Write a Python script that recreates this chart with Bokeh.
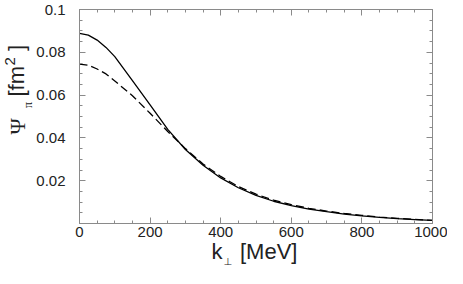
import math
from bokeh.plotting import figure
from bokeh.models import (LinearAxis, FixedTicker, CustomJSTickFormatter, Label,
                          Range1d, ColumnDataSource)
from bokeh.embed import file_html
from bokeh.resources import INLINE

# ---- data ----
k_perp = [0, 25, 50, 75, 100, 150, 200, 250, 300, 350, 400, 450, 500,
          550, 600, 650, 700, 750, 800, 850, 900, 950, 1000]
psi_solid = [0.0888, 0.0880, 0.0857, 0.0823, 0.0780, 0.0668, 0.0554, 0.0440,
             0.0346, 0.0272, 0.0213, 0.0167, 0.0131, 0.0104, 0.0084, 0.0067,
             0.0055, 0.0044, 0.0036, 0.0029, 0.0023, 0.0018, 0.0015]
psi_dashed = [0.0745, 0.0740, 0.0722, 0.0699, 0.0666, 0.0597, 0.0515, 0.0430,
              0.0350, 0.0278, 0.0220, 0.0173, 0.0137, 0.0109, 0.0088, 0.0071,
              0.0058, 0.0047, 0.0038, 0.0030, 0.0024, 0.0019, 0.0015]
x_ticks = [0, 200, 400, 600, 800, 1000]
y_ticks = [0.02, 0.04, 0.06, 0.08, 0.1]
x_minor = [v * 50 for v in range(0, 21)]
y_minor = [v * 0.005 for v in range(0, 21)]
X_MIN, X_MAX = 0, 1000
Y_MIN, Y_MAX = 0.0, 0.1

# ---- layout (canvas pixels) ----
W, H = 447, 268
L, R, T, B = 79, 432, 9, 223          # where the data box sits on the canvas

def dx(cx):
    return X_MIN + (cx - L) / (R - L) * (X_MAX - X_MIN)

def dy(cy):
    return Y_MIN + (B - cy) / (B - T) * (Y_MAX - Y_MIN)

src = ColumnDataSource(dict(k=k_perp, s=psi_solid, d=psi_dashed))

AX = "#8a8a8a"
TXT = "#222222"
FONT = "Liberation Sans"

p = figure(frame_width=W, frame_height=H, output_backend="svg", toolbar_location=None,
           x_range=Range1d(dx(0), dx(W)), y_range=Range1d(dy(H), dy(0)),
           x_axis_location=None, y_axis_location=None,
           min_border=0, min_border_left=0, min_border_right=0,
           min_border_top=0, min_border_bottom=0)
p.grid.visible = False
p.outline_line_color = None
p.background_fill_color = "white"
p.border_fill_color = "white"

fmt = CustomJSTickFormatter(code="var s = tick.toFixed(2); if (s.endsWith('0')) s = s.slice(0,-1); return s;")

def make_axis(ticks, minor, labels, loc, bounds, formatter=None):
    ax = LinearAxis(ticker=FixedTicker(ticks=ticks, minor_ticks=minor),
                    fixed_location=loc, bounds=bounds)
    ax.axis_line_color = AX
    ax.major_tick_line_color = AX
    ax.minor_tick_line_color = AX
    ax.major_tick_in = 6
    ax.major_tick_out = 0
    ax.minor_tick_in = 3
    ax.minor_tick_out = 0
    if labels:
        ax.major_label_text_font = FONT
        ax.major_label_text_font_size = "15px"
        ax.major_label_text_color = TXT
        if formatter is not None:
            ax.formatter = formatter
    else:
        ax.major_label_text_font_size = "0px"
        ax.major_label_text_color = None
        ax.major_label_standoff = 0
    return ax

xb = make_axis(x_ticks, x_minor, True, Y_MIN, (X_MIN, X_MAX))
xb.major_label_standoff = 3
yl = make_axis(y_ticks, y_minor, True, X_MIN, (Y_MIN, Y_MAX), fmt)
yl.major_label_standoff = 14
xt = make_axis(x_ticks, x_minor, False, Y_MAX, (X_MIN, X_MAX))
yr = make_axis(y_ticks, y_minor, False, X_MAX, (Y_MIN, Y_MAX))
p.add_layout(xb, "below")
p.add_layout(yl, "left")
p.add_layout(xt, "above")
p.add_layout(yr, "right")

p.line("k", "s", source=src, line_color="black", line_width=1.3)
p.line("k", "d", source=src, line_color="black", line_width=1.3, line_dash="8 4")

# ---- axis titles (composed so sub/superscripts can be drawn) ----
def lab(text, cx, cy, size, angle=0.0, font=FONT):
    p.add_layout(Label(x=dx(cx), y=dy(cy), text=text, text_font=font,
                       text_font_size=size, text_color=TXT, angle=angle,
                       text_align="left", text_baseline="middle"))

lab("k", 211, 251, "22px")
lab("\u22a5", 223, 261, "10px", font="DejaVu Sans")
lab("[MeV]", 239.5, 251, "22px")

RT = math.pi / 2
lab("\u03a8", 17, 134, "22px", RT, font="Liberation Serif")
lab("\u03c0", 27, 107.5, "12px", RT, font="Liberation Serif")
lab("[fm", 16, 96, "22px", RT)
lab("2", 9, 65, "15px", RT)
lab("]", 16, 50.5, "22px", RT)

open("out.html", "w").write(file_html(p, INLINE))
